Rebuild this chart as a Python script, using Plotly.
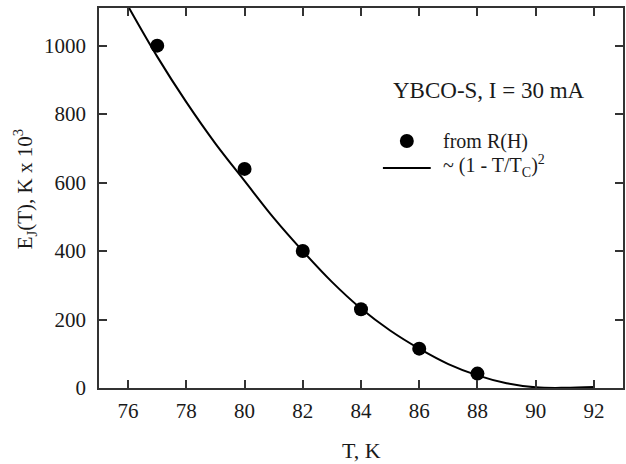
import plotly.graph_objects as go

# measured points
T_pts = [77, 80, 82, 84, 86, 88]
E_pts = [1000, 640, 400, 230, 115, 42]

# fitted curve
T_fit = [76, 77, 78, 79, 80, 81, 82, 83, 84, 85, 86, 87, 88, 89, 90, 91, 92]
E_fit = [1115, 968, 835, 714, 605, 497, 400, 310, 232, 168, 115, 70, 37, 14, 2, 0.5, 3]

x_ticks = [76, 78, 80, 82, 84, 86, 88, 90, 92]
y_ticks = [0, 200, 400, 600, 800, 1000]

FONT = "Liberation Serif, Times New Roman, serif"
INK = "#1a1a1a"

# plot-area pixel frame
L, R, Tp, B = 99, 625, 8, 388
W, H = 626, 464


def dx(px):
    return (px - L) / (R - L)


def dy(py):
    return (B - py) / (B - Tp)


fig = go.Figure()
fig.add_trace(go.Scatter(x=T_fit, y=E_fit, mode="lines", showlegend=False,
                         line=dict(color="black", width=2, shape="spline")))
fig.add_trace(go.Scatter(x=T_pts, y=E_pts, mode="markers", showlegend=False,
                         marker=dict(size=14, color="black"), cliponaxis=False))

axis_common = dict(showline=True, linecolor="#333", linewidth=1.5, mirror="ticks",
                   ticks="inside", ticklen=8, tickwidth=1.5, tickcolor="#333",
                   showgrid=False, zeroline=False,
                   tickfont=dict(family=FONT, size=21, color=INK))

fig.update_xaxes(range=[75, 93], tickvals=x_ticks, ticklabelstandoff=3, **axis_common)
fig.update_yaxes(range=[0, 1110], tickvals=y_ticks, ticklabelstandoff=7, **axis_common)

ann = dict(xref="x domain", yref="y domain", showarrow=False, xanchor="center", yanchor="middle")

# axis titles
fig.add_annotation(x=dx(363), y=dy(450), text="T, K",
                   font=dict(family=FONT, size=22, color=INK), **ann)
fig.add_annotation(x=dx(24), y=dy(189), text="E<sub>J</sub>(T), K x 10<sup>3</sup>", textangle=-90,
                   font=dict(family=FONT, size=21, color=INK), **ann)

# label inside plot
fig.add_annotation(x=dx(490), y=dy(90), text="YBCO-S, I = 30 mA",
                   font=dict(family=FONT, size=23, color=INK), **ann)

# legend (drawn by hand to match the long line sample)
fig.add_shape(type="circle", xref="x domain", yref="y domain",
              x0=dx(408 - 7), x1=dx(408 + 7), y0=dy(141 + 7), y1=dy(141 - 7),
              fillcolor="black", line=dict(color="black", width=0))
fig.add_shape(type="line", xref="x domain", yref="y domain",
              x0=dx(384), x1=dx(432), y0=dy(168), y1=dy(168),
              line=dict(color="black", width=2))
leg = dict(ann, xanchor="left")
fig.add_annotation(x=dx(442), y=dy(141), text="from R(H)",
                   font=dict(family=FONT, size=20, color=INK), **leg)
fig.add_annotation(x=dx(442), y=dy(166), text="~ (1 - T/T<sub>C</sub>)<sup>2</sup>",
                   font=dict(family=FONT, size=20, color=INK), **leg)

fig.update_layout(
    width=W, height=H,
    margin=dict(l=L, r=W - R, t=Tp, b=H - B),
    paper_bgcolor="white", plot_bgcolor="white",
    showlegend=False,
)

fig.write_html("out.html")
